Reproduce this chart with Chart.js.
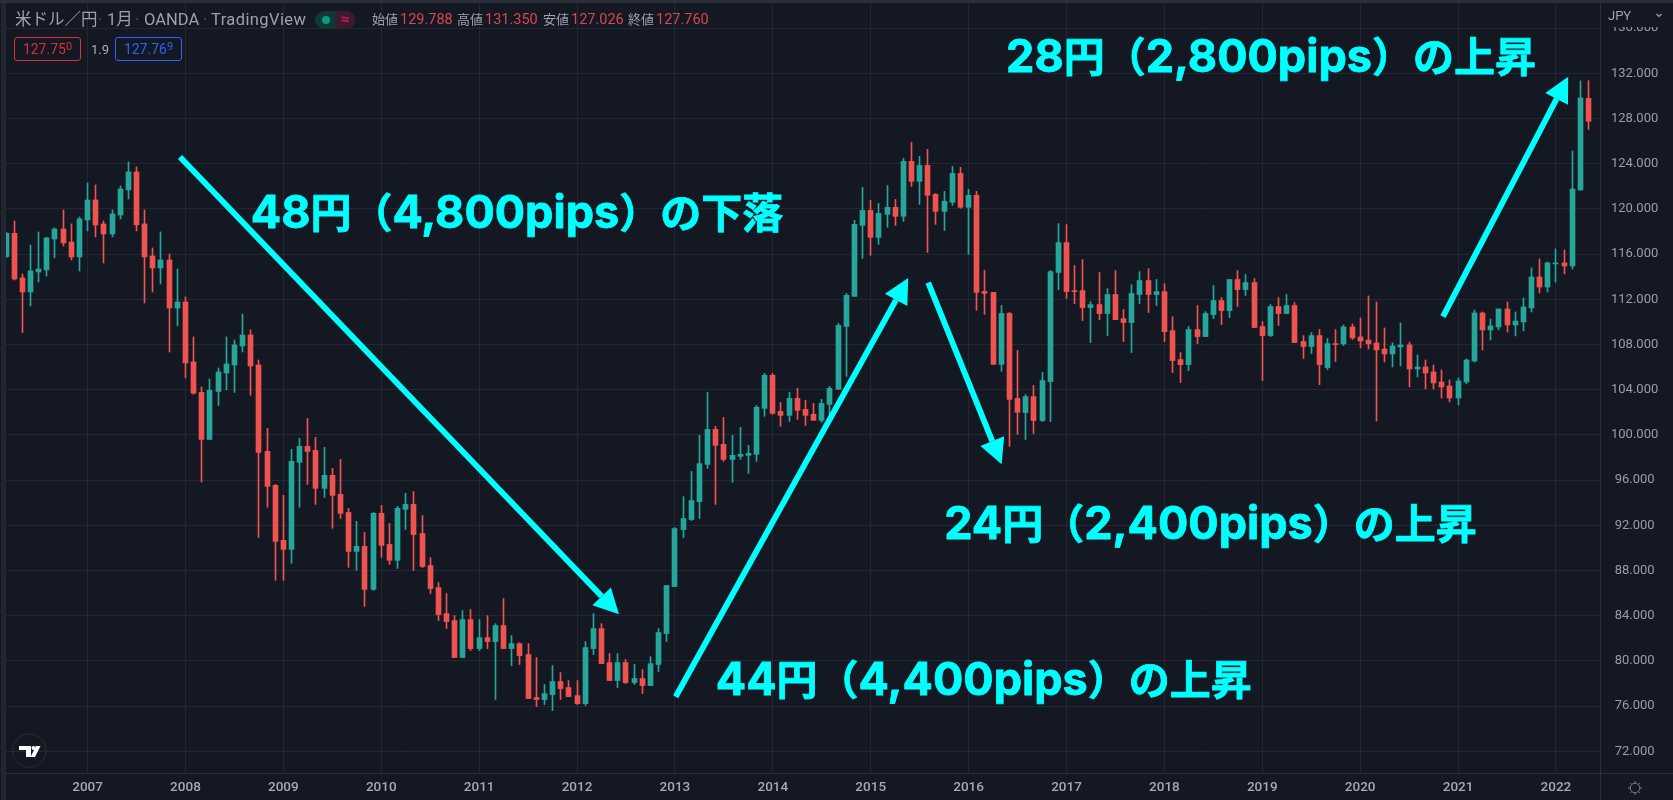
<!DOCTYPE html>
<html lang="ja">
<head>
<meta charset="utf-8">
<title>米ドル／円</title>
<script src="https://cdn.jsdelivr.net/npm/chart.js@4/dist/chart.umd.js"></script>
<style>
    html, body { margin: 0; padding: 0; background: #141823; width: 1673px; height: 800px; overflow: hidden; }
    canvas { position: absolute; left: 0; top: 0; }
    .head { position: absolute; top: 11px; white-space: nowrap; font: 14.5px/18px Roboto, "Noto Sans CJK JP", sans-serif; color: #9ea1aa; }
    .title { font-size: 16.5px; }
    .sep { color: #565a66; }
    .lab { font-size: 13px; }
    .red { color: #d9474b; }
    .box { position: absolute; top: 37px; width: 65px; height: 22px; border: 1px solid; border-radius: 3px; text-align: center; font: 14px/22px Roboto, sans-serif; }
    .box sup { font-size: 11px; line-height: 0; vertical-align: 4px; }
    .pill { position: absolute; left: 315px; top: 11px; width: 40px; height: 18px; border-radius: 9px; overflow: hidden; background: #103837; }
    .pill i { position: absolute; left: 7px; top: 5px; width: 8px; height: 8px; border-radius: 4px; background: #089981; }
    .pill b { position: absolute; right: 0; top: 0; width: 20px; height: 18px; background: #3a1b30; color: #d81b60; font: bold 15px/17px Roboto, sans-serif; text-align: center; }
</style>
</head>
<body>
<canvas id="chart" width="1673" height="800"></canvas>
<div class="head title" style="left:15px">米ドル／円</div>
<div class="head title sep" style="left:98px">·</div>
<div class="head title" style="left:107px">1月</div>
<div class="head title sep" style="left:135px">·</div>
<div class="head title" style="left:144px">OANDA</div>
<div class="head title sep" style="left:203px">·</div>
<div class="head title" style="left:211px;letter-spacing:0.4px">TradingView</div>
<div class="pill"><i></i><b>≈</b></div>
<div class="head lab" style="left:372px">始値</div><div class="head red" style="left:400px">129.788</div>
<div class="head lab" style="left:457px">高値</div><div class="head red" style="left:485px">131.350</div>
<div class="head lab" style="left:543px">安値</div><div class="head red" style="left:571px">127.026</div>
<div class="head lab" style="left:628px">終値</div><div class="head red" style="left:656px">127.760</div>
<div class="box" style="left:14px;border-color:#d6303c;color:#d6303c">127.75<sup>0</sup></div>
<div class="head" style="left:91px;top:41px;font-size:13px;color:#a9acb5">1.9</div>
<div class="box" style="left:115px;border-color:#2962ff;color:#2962ff">127.76<sup>9</sup></div>
<script>
// months shown on the time axis, one row per year
const months = [
    '2006-03','2006-04','2006-05','2006-06','2006-07','2006-08','2006-09','2006-10','2006-11','2006-12',
    '2007-01','2007-02','2007-03','2007-04','2007-05','2007-06','2007-07','2007-08','2007-09','2007-10','2007-11','2007-12',
    '2008-01','2008-02','2008-03','2008-04','2008-05','2008-06','2008-07','2008-08','2008-09','2008-10','2008-11','2008-12',
    '2009-01','2009-02','2009-03','2009-04','2009-05','2009-06','2009-07','2009-08','2009-09','2009-10','2009-11','2009-12',
    '2010-01','2010-02','2010-03','2010-04','2010-05','2010-06','2010-07','2010-08','2010-09','2010-10','2010-11','2010-12',
    '2011-01','2011-02','2011-03','2011-04','2011-05','2011-06','2011-07','2011-08','2011-09','2011-10','2011-11','2011-12',
    '2012-01','2012-02','2012-03','2012-04','2012-05','2012-06','2012-07','2012-08','2012-09','2012-10','2012-11','2012-12',
    '2013-01','2013-02','2013-03','2013-04','2013-05','2013-06','2013-07','2013-08','2013-09','2013-10','2013-11','2013-12',
    '2014-01','2014-02','2014-03','2014-04','2014-05','2014-06','2014-07','2014-08','2014-09','2014-10','2014-11','2014-12',
    '2015-01','2015-02','2015-03','2015-04','2015-05','2015-06','2015-07','2015-08','2015-09','2015-10','2015-11','2015-12',
    '2016-01','2016-02','2016-03','2016-04','2016-05','2016-06','2016-07','2016-08','2016-09','2016-10','2016-11','2016-12',
    '2017-01','2017-02','2017-03','2017-04','2017-05','2017-06','2017-07','2017-08','2017-09','2017-10','2017-11','2017-12',
    '2018-01','2018-02','2018-03','2018-04','2018-05','2018-06','2018-07','2018-08','2018-09','2018-10','2018-11','2018-12',
    '2019-01','2019-02','2019-03','2019-04','2019-05','2019-06','2019-07','2019-08','2019-09','2019-10','2019-11','2019-12',
    '2020-01','2020-02','2020-03','2020-04','2020-05','2020-06','2020-07','2020-08','2020-09','2020-10','2020-11','2020-12',
    '2021-01','2021-02','2021-03','2021-04','2021-05','2021-06','2021-07','2021-08','2021-09','2021-10','2021-11','2021-12',
    '2022-01','2022-02','2022-03','2022-04','2022-05'
];

const opens = [
    115.78,117.84,113.89,112.65,114.42,114.6,117.34,118.22,117.07,115.75,
    119.02,120.79,118.67,117.78,119.46,121.68,123.27,118.67,115.83,114.77,
    115.48,111.23,111.76,106.45,103.76,99.6,103.85,105.48,106.19,107.87,
    108.84,106.19,98.54,95.53,90.67,89.87,97.57,98.99,98.63,95.27,
    96.42,94.74,93.14,89.69,90.14,86.33,93.06,90.31,88.9,93.41,
    93.85,91.27,88.44,86.49,84.19,83.57,80.3,83.66,81.09,82.06,
    81.71,83.13,81.09,81.53,80.56,76.76,76.58,77.02,78.17,77.64,
    76.93,76.22,81.09,82.86,79.85,78.26,79.85,78.08,78.44,77.82,
    79.68,82.42,86.58,91.62,92.51,94.1,97.39,100.49,99.16,97.83,
    98.1,98.19,98.28,102.35,105.27,102.08,101.73,103.23,102.26,101.82,
    101.29,102.7,104.03,109.6,112.26,118.54,119.87,117.48,119.52,120.14,
    119.34,124.21,122.44,123.85,121.29,119.78,120.58,123.14,120.14,121.2,
    112.7,112.61,106.24,110.75,103.23,101.98,103.39,101.27,104.72,114.37,
    117.02,112.77,112.77,111.27,111.53,110.74,112.42,110.29,109.94,112.42,
    113.66,112.42,112.68,109.23,106.67,106.22,109.32,108.7,110.65,111.89,
    111.0,113.75,112.86,113.48,109.59,108.79,111.36,110.74,111.45,108.26,
    107.82,108.79,105.96,108.08,108.05,109.55,108.67,108.4,108.14,107.6,
    107.16,107.78,107.96,105.83,106.01,105.57,104.68,104.33,103.27,104.68,
    106.54,110.79,109.29,109.55,111.14,109.73,110.0,111.23,113.98,113.09,
    115.13,115.22,114.95,121.67,129.788
];
const highs = [
    117.9,118.93,114.24,116.81,117.96,117.5,118.31,119.91,118.67,119.29,
    122.3,122.12,118.93,119.91,122.03,124.15,123.71,119.91,116.54,117.96,
    116.01,114.68,112.21,108.67,104.24,104.95,105.92,108.67,108.4,110.7,
    109.29,106.63,100.58,95.62,94.65,98.72,99.69,101.46,99.78,98.9,
    97.04,97.83,93.5,92.35,91.37,93.14,93.76,92.17,93.68,94.83,
    94.99,92.86,89.14,86.93,85.96,84.01,84.45,84.54,83.66,84.01,
    83.3,85.52,82.24,81.62,81.53,80.3,77.91,79.59,78.97,78.26,
    78.26,81.71,84.19,83.3,80.65,80.65,80.12,79.68,79.23,80.38,
    82.86,86.67,91.8,94.54,96.76,99.96,103.76,100.76,101.55,99.96,
    100.67,99.07,102.61,105.45,105.45,102.88,103.76,104.12,103.06,102.79,
    103.14,104.29,109.87,112.53,118.99,121.91,120.76,120.49,122.08,120.84,
    124.47,125.89,124.65,125.27,121.37,121.55,123.76,123.68,121.73,121.55,
    114.56,112.61,111.46,110.84,107.48,103.57,104.37,105.52,114.54,118.7,
    118.61,114.99,115.52,111.8,114.37,112.95,114.54,111.09,113.3,114.45,
    114.72,113.75,113.39,110.47,107.29,109.59,111.45,110.91,113.22,112.15,
    113.75,114.54,114.19,113.83,110.03,111.53,112.15,112.42,111.71,108.79,
    109.06,109.32,108.53,109.32,109.73,109.82,110.35,112.29,111.76,109.46,
    108.14,109.91,108.22,107.07,106.63,106.19,105.75,104.86,105.04,106.72,
    111.06,110.88,110.26,111.14,111.76,110.88,112.12,114.77,115.57,115.3,
    116.45,116.37,125.13,131.32,131.35
];
const lows = [
    115.7,113.71,109.05,111.41,113.53,114.06,115.66,116.72,115.48,114.51,
    118.05,117.52,115.22,117.52,119.11,120.88,118.05,111.68,112.65,113.36,
    107.34,109.64,105.04,103.6,95.83,99.6,102.61,103.98,103.76,107.34,
    103.5,90.93,93.59,87.13,87.13,88.63,93.59,95.62,93.85,94.47,
    91.73,92.61,88.28,88.01,84.83,86.24,89.16,88.54,88.19,91.64,
    88.0,88.26,85.96,83.57,82.86,80.3,80.3,80.91,80.91,81.09,
    76.58,81.09,79.59,79.68,76.67,75.96,76.14,75.6,76.58,76.84,
    76.14,76.05,80.56,79.76,78.26,77.64,78.0,77.91,77.11,77.82,
    79.06,81.71,86.58,90.91,92.42,92.6,97.04,93.85,97.66,95.8,
    97.84,96.6,97.66,101.64,101.82,100.76,101.2,101.37,100.84,101.29,
    101.11,101.82,104.03,105.18,112.26,115.62,115.89,116.86,118.37,118.54,
    118.9,121.99,120.4,116.15,118.63,118.1,120.31,120.05,115.98,111.02,
    110.67,106.24,105.62,98.99,100.05,99.59,100.12,101.18,101.18,112.86,
    112.06,111.62,110.12,108.17,110.2,108.79,110.2,108.26,107.29,111.62,
    110.83,111.45,108.26,105.52,104.63,105.69,108.08,108.7,110.29,109.76,
    110.38,111.36,112.33,109.5,104.81,108.7,109.68,110.74,108.17,106.76,
    107.2,104.45,105.78,106.49,107.91,108.44,107.69,107.6,101.23,106.45,
    106.01,106.1,104.24,105.13,104.07,104.07,103.27,102.91,102.65,104.51,
    106.45,107.52,108.4,109.29,109.11,108.76,109.2,110.88,112.56,112.65,
    113.53,114.24,114.68,121.67,127.026
];
const closes = [
    117.84,113.8,112.65,114.51,114.68,117.43,118.22,116.99,115.75,119.11,
    120.79,118.58,117.78,119.55,121.76,123.27,118.58,115.75,114.77,115.48,
    111.23,111.76,106.37,103.7,99.6,103.94,105.57,106.28,107.96,108.84,
    106.1,98.45,95.45,90.58,89.87,97.66,98.99,98.54,95.27,96.42,
    94.65,93.06,89.69,90.14,86.33,93.06,90.22,88.9,93.5,93.85,
    91.18,88.35,86.4,84.1,83.48,80.3,83.66,81.09,82.06,81.71,
    83.13,81.09,81.53,80.47,76.67,76.58,77.11,78.17,77.55,76.84,
    76.22,81.18,82.86,79.76,78.26,79.85,78.08,78.44,77.82,79.76,
    82.51,86.67,91.71,92.6,94.19,97.46,100.49,99.07,97.83,98.19,
    98.28,98.37,102.44,105.27,101.91,101.73,103.23,102.17,101.73,101.29,
    102.79,104.12,109.69,112.35,118.63,119.87,117.48,119.6,120.14,119.34,
    124.21,122.44,123.85,121.2,119.78,120.67,123.14,120.14,121.2,112.61,
    112.52,106.24,110.75,103.14,102.0,103.39,101.27,104.81,114.45,117.02,
    112.68,112.68,111.27,111.53,110.74,112.42,110.2,109.94,112.51,113.66,
    112.42,112.68,109.14,106.58,106.22,109.32,108.7,110.74,111.89,111.0,
    113.75,112.86,113.48,109.5,108.79,111.36,110.74,111.45,108.17,107.82,
    108.79,106.22,108.08,107.99,109.55,108.58,108.31,108.05,107.52,107.16,
    107.87,107.96,105.83,106.01,105.48,104.6,104.24,103.27,104.77,106.63,
    110.79,109.29,109.64,111.14,109.73,110.08,111.32,113.98,113.09,115.22,
    115.22,114.95,121.76,129.82,127.76
];

const priceTicks = [72, 76, 80, 84, 88, 92, 96, 100, 104, 108, 112, 116, 120, 124, 128, 132, 136];

// arrows and captions, given in bar index / price so they follow the scales
const arrowFromBar = [21.33, 82.09, 113.05, 176.15];
const arrowFromPrice = [124.59, 76.83, 113.47, 110.46];
const arrowToBar = [75.14, 110.6, 122.05, 191.5];
const arrowToPrice = [84.12, 113.88, 97.4, 131.7];
const captions = ['48円（4,800pips）の下落', '44円（4,400pips）の上昇', '24円（2,400pips）の上昇', '28円（2,800pips）の上昇'];
const captionBar = [30.0, 87.0, 115.0, 122.6];
const captionPrice = [118.31, 76.98, 90.83, 132.1];

const upColor = '#26a69a';
const downColor = '#ef5350';
const gridColor = '#232733';
const lineColor = '#2c303b';
const cyan = '#00ffff';
const candleColors = closes.map((c, i) => c >= opens[i] ? upColor : downColor);

function drawArrow(ctx, x1, y1, x2, y2) {
    const a = Math.atan2(y2 - y1, x2 - x1);
    const headLen = 25, headHalf = 12.8;
    const bx = x2 - Math.cos(a) * headLen, by = y2 - Math.sin(a) * headLen;
    ctx.strokeStyle = cyan;
    ctx.fillStyle = cyan;
    ctx.lineWidth = 5.8;
    ctx.beginPath();
    ctx.moveTo(x1, y1);
    ctx.lineTo(bx, by);
    ctx.stroke();
    ctx.beginPath();
    ctx.moveTo(x2, y2);
    ctx.lineTo(bx - Math.sin(a) * headHalf, by + Math.cos(a) * headHalf);
    ctx.lineTo(bx + Math.sin(a) * headHalf, by - Math.cos(a) * headHalf);
    ctx.closePath();
    ctx.fill();
}

// digits and "pips" use a wider font than the kana and kanji around them
function drawCaption(ctx, text, x, y) {
    ctx.strokeStyle = cyan;
    ctx.lineWidth = 0.8;
    text.match(/[0-9,a-z]+|[^0-9,a-z]+/g).forEach(run => {
        ctx.font = /^[0-9,a-z]/.test(run) ? 'bold 45px Inter' : 'bold 41px "Noto Sans CJK JP"';
        ctx.fillText(run, x, y);
        ctx.strokeText(run, x, y);
        x += ctx.measureText(run).width;
    });
}

// snap candles to whole pixels so the 1px wicks stay sharp
const snapCandles = {
    id: 'snapCandles',
    beforeDatasetsDraw(chart) {
        chart.data.datasets.forEach((d, i) => {
            chart.getDatasetMeta(i).data.forEach(el => { el.x = Math.floor(el.x) + 0.5; });
        });
    }
};

const overlay = {
    id: 'overlay',
    afterDraw(chart) {
        const ctx = chart.ctx;
        const x = chart.scales.x, y = chart.scales.y;
        ctx.save();

        // window frame
        ctx.fillStyle = '#22262f';
        ctx.fillRect(1, 0, 5, 800);
        ctx.fillStyle = '#2a2e39';
        ctx.fillRect(0, 0, 1673, 3);
        ctx.fillStyle = lineColor;
        ctx.fillRect(1600, 773, 73, 1);
        ctx.fillRect(1600, 773, 1, 27);

        // currency button covers the top of the price axis
        ctx.fillStyle = '#141823';
        ctx.fillRect(1601, 3, 72, 24);
        ctx.fillStyle = '#a0a3ad';
        ctx.font = '13px Roboto';
        ctx.textAlign = 'left';
        ctx.textBaseline = 'middle';
        ctx.fillText('JPY', 1608, 17);
        ctx.strokeStyle = '#a0a3ad';
        ctx.lineWidth = 1.2;
        ctx.beginPath();
        ctx.moveTo(1656.5, 14);
        ctx.lineTo(1659, 16.5);
        ctx.lineTo(1661.5, 14);
        ctx.stroke();

        // settings icon
        ctx.strokeStyle = '#787b86';
        ctx.lineWidth = 1;
        ctx.beginPath();
        ctx.arc(1635, 788, 4.8, 0, Math.PI * 2);
        ctx.stroke();
        for (let i = 0; i < 8; i++) {
            const a = i * Math.PI / 4;
            ctx.beginPath();
            ctx.moveTo(1635 + Math.cos(a) * 5, 788 + Math.sin(a) * 5);
            ctx.lineTo(1635 + Math.cos(a) * 7, 788 + Math.sin(a) * 7);
            ctx.stroke();
        }

        // logo
        ctx.strokeStyle = '#2a2e39';
        ctx.lineWidth = 1;
        ctx.beginPath();
        ctx.arc(29.3, 750.7, 16.7, 0, Math.PI * 2);
        ctx.stroke();
        ctx.fillStyle = '#ffffff';
        ctx.fillRect(19, 746, 12, 4);
        ctx.fillRect(26, 750, 5, 7);
        ctx.beginPath();
        ctx.arc(33.5, 748, 2, 0, Math.PI * 2);
        ctx.fill();
        ctx.beginPath();
        ctx.moveTo(36, 746);
        ctx.lineTo(40.5, 746);
        ctx.lineTo(35, 757);
        ctx.lineTo(30.5, 757);
        ctx.closePath();
        ctx.fill();

        // annotations
        arrowToBar.forEach((b, i) => {
            drawArrow(ctx, x.getPixelForValue(arrowFromBar[i]), y.getPixelForValue(arrowFromPrice[i]),
                x.getPixelForValue(b), y.getPixelForValue(arrowToPrice[i]));
        });
        ctx.fillStyle = cyan;
        ctx.textAlign = 'left';
        ctx.textBaseline = 'alphabetic';
        captions.forEach((t, i) => {
            drawCaption(ctx, t, x.getPixelForValue(captionBar[i]), y.getPixelForValue(captionPrice[i]));
        });
        ctx.restore();
    }
};

new Chart(document.getElementById('chart').getContext('2d'), {
    type: 'bar',
    data: {
        datasets: [
            {
                label: 'body',
                data: months.map((m, i) => ({ x: i, y: [opens[i], closes[i]] })),
                backgroundColor: candleColors,
                barThickness: 5,
                minBarLength: 1,
                grouped: false
            },
            {
                label: 'wick',
                data: months.map((m, i) => ({ x: i, y: [lows[i], highs[i]] })),
                backgroundColor: candleColors,
                barThickness: 1,
                grouped: false
            }
        ]
    },
    options: {
        responsive: false,
        animation: false,
        events: [],
        layout: { padding: { left: 6, top: 3, right: 0, bottom: 0 } },
        plugins: { legend: { display: false }, tooltip: { enabled: false } },
        scales: {
            x: {
                type: 'linear',
                min: 0,
                max: 195.4,
                offset: false,
                afterBuildTicks(scale) {
                    scale.ticks = months.map((m, i) => i).filter(i => months[i].endsWith('-01')).map(i => ({ value: i }));
                },
                afterFit(scale) {
                    scale.height = 27;
                    scale.paddingLeft = 0;
                    scale.paddingRight = 0;
                },
                // bar charts shift the grid between ticks by default
                grid: { color: gridColor, drawTicks: false, offset: false },
                border: { display: true, color: lineColor },
                ticks: {
                    autoSkip: false,
                    maxRotation: 0,
                    padding: 7,
                    color: '#a6a9b2',
                    font: { family: 'Roboto', size: 13.5, weight: '500' },
                    callback: value => months[value].slice(0, 4)
                }
            },
            y: {
                position: 'right',
                min: 70.08,
                max: 138.22,
                afterBuildTicks(scale) {
                    scale.ticks = priceTicks.map(v => ({ value: v }));
                },
                afterFit(scale) {
                    scale.width = 73;
                    scale.paddingTop = 0;
                    scale.paddingBottom = 0;
                },
                grid: { color: gridColor, drawTicks: false },
                border: { display: true, color: lineColor },
                ticks: {
                    autoSkip: false,
                    crossAlign: 'center',
                    padding: 11,
                    color: '#9a9da6',
                    font: { family: 'Roboto', size: 13 },
                    callback: value => value.toFixed(3)
                }
            }
        }
    },
    plugins: [snapCandles, overlay]
});
</script>
</body>
</html>
